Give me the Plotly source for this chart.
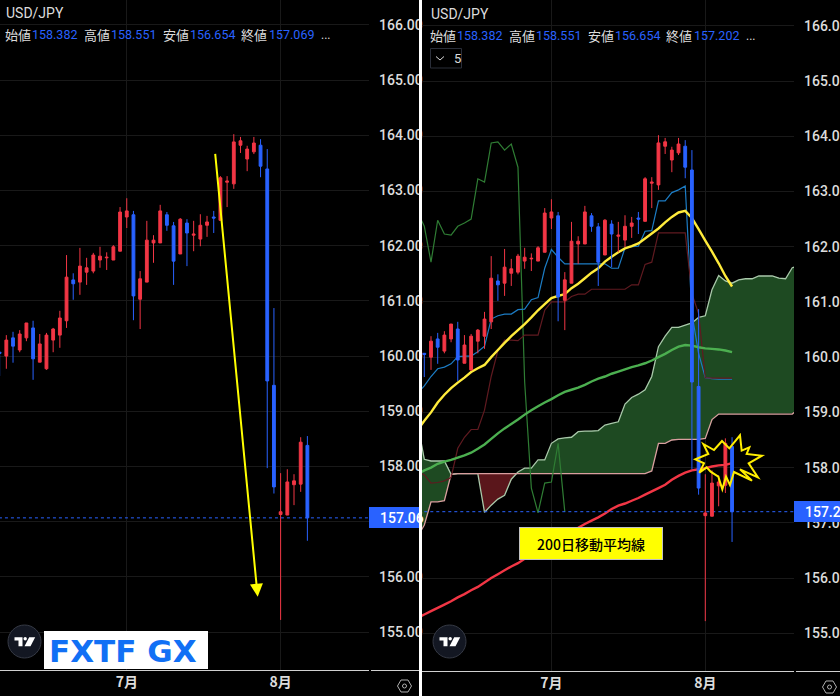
import numpy as np
import plotly.graph_objects as go

# ---------- data ----------
candle_idx = list(range(-1, 46))
opens = [160.07, 160.00, 160.33, 160.11, 160.33, 160.51, 159.89, 159.77, 160.29, 160.38, 160.64, 161.38,
         161.34, 161.52, 161.54, 161.74, 161.78, 161.74, 161.90, 162.52, 162.56, 161.03, 161.34, 162.05,
         162.05, 162.56, 162.36, 161.85, 162.41, 162.19, 162.12, 162.37, 162.52, 162.46, 163.15, 163.12,
         163.82, 163.57, 163.70, 163.82, 163.39, 159.47, 157.13, 157.12, 157.67, 157.68, 158.382]
highs = [160.07, 160.38, 160.44, 160.47, 160.60, 160.64, 160.40, 160.42, 160.51, 160.82, 161.83, 161.50,
         161.96, 161.78, 161.87, 161.98, 161.88, 162.01, 162.70, 162.86, 162.63, 161.54, 162.45, 162.19,
         162.74, 162.61, 162.43, 162.50, 162.48, 162.45, 162.57, 162.54, 162.63, 163.26, 163.26, 164.02,
         163.97, 163.81, 163.97, 163.93, 163.75, 160.87, 157.88, 157.95, 157.86, 158.53, 158.551]
lows = [159.64, 159.77, 159.88, 160.07, 160.27, 159.57, 159.89, 159.75, 160.07, 160.15, 160.51, 161.02,
        161.11, 161.29, 161.50, 161.60, 161.56, 161.74, 161.90, 162.32, 160.65, 160.49, 161.34, 161.69,
        162.05, 162.27, 161.29, 161.85, 161.63, 161.90, 161.99, 162.16, 162.23, 162.46, 162.70, 163.03,
        163.68, 163.35, 163.66, 163.24, 157.97, 157.51, 155.22, 157.12, 157.30, 157.54, 156.654]
closes_left = [160.05, 160.29, 160.18, 160.40, 160.60, 159.95, 160.22, 160.38, 160.49, 160.69, 161.43, 161.31,
               161.63, 161.60, 161.83, 161.81, 161.79, 161.98, 162.61, 162.63, 161.09, 161.40, 162.10, 162.10,
               162.63, 162.37, 161.72, 162.48, 162.23, 162.21, 162.37, 162.43, 162.50, 163.23, 163.17, 163.88,
               163.90, 163.75, 163.86, 163.44, 159.55, 157.63, 157.18, 157.72, 157.74, 158.44, 157.069]
closes_right = closes_left[:-1] + [157.202]

line_idx = list(range(-2, 46))
sma25 = [158.68, 158.85, 159.00, 159.18, 159.32, 159.44, 159.54, 159.63, 159.73, 159.80, 159.86, 160.00,
         160.13, 160.26, 160.38, 160.49, 160.60, 160.72, 160.85, 160.96, 161.07, 161.11, 161.14, 161.25,
         161.33, 161.43, 161.53, 161.61, 161.73, 161.82, 161.90, 161.97, 162.01, 162.06, 162.15, 162.24,
         162.33, 162.44, 162.54, 162.62, 162.65, 162.52, 162.32, 162.11, 161.91, 161.70, 161.47, 161.28]
sma75 = [157.88, 157.95, 158.00, 158.07, 158.11, 158.14, 158.18, 158.22, 158.27, 158.34, 158.42, 158.52,
         158.62, 158.71, 158.79, 158.87, 158.96, 159.04, 159.11, 159.18, 159.24, 159.31, 159.37, 159.41,
         159.45, 159.50, 159.56, 159.61, 159.65, 159.70, 159.74, 159.78, 159.82, 159.85, 159.89, 159.94,
         160.00, 160.06, 160.13, 160.19, 160.22, 160.21, 160.18, 160.16, 160.15, 160.14, 160.12, 160.09]
sma200 = [155.28, 155.34, 155.40, 155.46, 155.52, 155.58, 155.65, 155.71, 155.78, 155.84, 155.92, 156.00,
          156.07, 156.14, 156.21, 156.27, 156.35, 156.42, 156.49, 156.57, 156.65, 156.72, 156.78, 156.85,
          156.91, 156.98, 157.04, 157.10, 157.17, 157.25, 157.31, 157.35, 157.40, 157.45, 157.51, 157.57,
          157.63, 157.69, 157.78, 157.85, 157.91, 157.95, 157.97, 157.99, 158.02, 158.04, 158.05, 158.08]
tenkan = [159.35, 159.48, 159.65, 159.79, 159.82, 159.88, 160.01, 160.02, 160.02, 160.10, 160.20, 160.69,
          160.75, 160.78, 160.78, 160.86, 160.87, 161.04, 161.08, 161.61, 161.95, 161.81, 161.69, 161.69,
          161.69, 161.69, 161.69, 161.69, 161.69, 161.61, 161.61, 161.98, 162.00, 162.01, 162.28, 162.29,
          162.83, 162.83, 162.98, 163.03, 163.10, 160.79, 160.07, 159.63, 159.61, 159.60, 159.60, 159.60]
kijun = [157.92, 157.87, 157.72, 157.73, 157.76, 157.82, 158.35, 158.55, 158.69, 158.69, 159.04, 159.65,
         160.12, 160.31, 160.31, 160.30, 160.40, 160.40, 160.40, 160.85, 161.00, 161.00, 161.00, 161.10,
         161.14, 161.14, 161.23, 161.23, 161.23, 161.23, 161.23, 161.23, 161.31, 161.31, 161.68, 161.72,
         162.25, 162.25, 162.25, 162.25, 162.25, 161.15, 160.79, 159.63, 159.62, 159.62, 159.62, 159.62]
chikou_idx = list(range(-2, 21))
chikou = [162.63, 162.37, 161.72, 162.48, 162.23, 162.21, 162.37, 162.43, 162.50, 163.23, 163.17, 163.88,
          163.90, 163.75, 163.86, 163.44, 159.55, 157.63, 157.18, 157.72, 157.74, 158.44, 157.20]
cloud_idx = list(range(-2, 56))
senkou_a = [158.80, 158.15, 158.12, 158.12, 158.12, 157.88, 157.89, 157.89, 157.89, 157.89, 157.19, 157.32,
            157.43, 157.50, 157.79, 157.92, 157.99, 157.99, 158.14, 158.14, 158.44, 158.52, 158.54, 158.55,
            158.65, 158.66, 158.66, 158.67, 158.77, 158.80, 158.83, 159.15, 159.27, 159.33, 159.41, 159.65,
            160.19, 160.38, 160.54, 160.54, 160.58, 160.62, 160.72, 160.75, 161.22, 161.48, 161.38, 161.34,
            161.40, 161.42, 161.42, 161.47, 161.47, 161.47, 161.43, 161.42, 161.62, 161.65]
senkou_b = [156.75, 156.96, 157.38, 157.38, 157.40, 157.88, 157.89, 157.89, 157.89, 157.89, 157.89, 157.89,
            157.89, 157.89, 157.89, 157.89, 157.89, 157.89, 157.89, 157.89, 157.89, 157.89, 157.89, 157.89,
            157.89, 157.89, 157.89, 157.89, 157.89, 157.89, 157.89, 157.89, 157.89, 157.89, 157.89, 157.94,
            158.44, 158.44, 158.50, 158.51, 158.51, 158.51, 158.51, 158.53, 158.87, 158.97, 158.97, 158.97,
            158.97, 158.97, 158.97, 158.97, 158.97, 158.97, 158.97, 158.97, 158.97, 159.07]

price_ticks = list(range(155, 167))
month_pos = [18, 41]
month_labels = ["7月", "8月"]
ohlc_labels = ["始値", "高値", "安値", "終値"]
ohlc_left = ["158.382", "158.551", "156.654", "157.069"]
ohlc_right = ["158.382", "158.551", "156.654", "157.202"]

# ---------- colours ----------
UP, DOWN = "#f23645", "#2962ff"
BG, GRID = "#000000", "#191919"
TXT = "#dcdcdc"
W, H = 840, 698
SANS = "Roboto, sans-serif"
CJK = "Noto Sans CJK JP, sans-serif"


def xp(px):
    return px / W


def yp(py):
    return 1 - py / H


fig = go.Figure()


def candles(closes, xa, ya):
    return go.Candlestick(
        x=candle_idx, open=opens, high=highs, low=lows, close=closes, xaxis=xa, yaxis=ya,
        increasing=dict(line=dict(color=UP, width=1), fillcolor=UP),
        decreasing=dict(line=dict(color=DOWN, width=1), fillcolor=DOWN),
        whiskerwidth=0, hoverinfo="skip", showlegend=False,
    )


def line(x, y, color, width, xa="x2", ya="y2", dash=None):
    return go.Scatter(x=x, y=y, mode="lines", xaxis=xa, yaxis=ya, hoverinfo="skip",
                      line=dict(color=color, width=width, dash=dash, simplify=False))


# left panel
fig.add_trace(candles(closes_left, "x", "y"))
fig.add_trace(line([candle_idx[0] - 1, 56], [closes_left[-1]] * 2, DOWN, 1, "x", "y", "dot"))

# right panel: cloud
xf = np.arange(cloud_idx[0], cloud_idx[-1] + 0.001, 0.02)
af = np.interp(xf, cloud_idx, senkou_a)
bf = np.interp(xf, cloud_idx, senkou_b)
top = np.maximum(af, bf)
for lower, fillc in ((bf, "#1e4a22"), (af, "#5a161b")):
    fig.add_trace(go.Scatter(x=xf, y=lower, mode="lines", line=dict(width=0), xaxis="x2", yaxis="y2", hoverinfo="skip"))
    fig.add_trace(go.Scatter(x=xf, y=top, mode="lines", line=dict(width=0), fill="tonexty", fillcolor=fillc,
                             xaxis="x2", yaxis="y2", hoverinfo="skip"))
fig.add_trace(line(cloud_idx, senkou_a, "#a9c9aa", 1.3))
fig.add_trace(line(cloud_idx, senkou_b, "#d99f9f", 1.3))
fig.add_trace(line(chikou_idx, chikou, "#2f7d34", 1.2))
fig.add_trace(line(line_idx, tenkan, "#1c7cc4", 1.2))
fig.add_trace(line(line_idx, kijun, "#601a20", 1.2))
fig.add_trace(line(line_idx, sma75, "#4caf50", 2.4))
fig.add_trace(line(line_idx, sma25, "#ffeb3b", 2.4))
fig.add_trace(line(line_idx, sma200, "#f23645", 2.4))
fig.add_trace(line([-1, 56], [closes_right[-1]] * 2, DOWN, 1, "x2", "y2", "dot"))
# right panel: candles on an overlaying axis pair so they sit above the cloud
fig.add_trace(candles(closes_right, "x3", "y3"))

# ---------- axes ----------
XL = [-0.946, 54.21]
YL = [154.313, 166.451]
XR = [-1.345, 54.26]
YR = [154.317, 166.468]


def xaxis(dom, rng, anchor, **kw):
    return dict(domain=dom, range=rng, anchor=anchor, tickmode="array", tickvals=month_pos, ticktext=month_labels,
                tickfont=dict(family=CJK, size=14, color=TXT, weight=700), ticklabelstandoff=2,
                showgrid=True, gridcolor=GRID, gridwidth=1, zeroline=False, showline=False, ticks="",
                rangeslider=dict(visible=False), fixedrange=True, **kw)


def yaxis(dom, rng, anchor, **kw):
    return dict(domain=dom, range=rng, anchor=anchor, side="right", tickmode="array", tickvals=price_ticks,
                ticktext=[f"{v}.00" for v in price_ticks], tickfont=dict(family=SANS, size=14, color=TXT, weight=500),
                ticklabelstandoff=9, showgrid=True, gridcolor=GRID, gridwidth=1, zeroline=False, showline=False,
                ticks="", fixedrange=True, **kw)


LDX, LDY = [0, xp(369)], [yp(670), 1]
RDX, RDY = [xp(422), xp(794)], [yp(671), 1]

shapes = []


def rect(x0, y0, x1, y1, fill, line_c=None, lw=0):
    shapes.append(dict(type="rect", xref="paper", yref="paper", x0=xp(x0), x1=xp(x1), y0=yp(y0), y1=yp(y1),
                       fillcolor=fill, line=dict(color=line_c or fill, width=lw), layer="above"))


def poly(points, fill=None, color=None, width=0, closed=True):
    d = "M" + "L".join(f"{xp(px):.5f},{yp(py):.5f}" for px, py in points) + ("Z" if closed else "")
    shapes.append(dict(type="path", xref="paper", yref="paper", path=d, fillcolor=fill or "rgba(0,0,0,0)",
                       line=dict(color=color or "rgba(0,0,0,0)", width=width), layer="above"))


def circle(cx, cy, r, fill, color=None, width=0):
    shapes.append(dict(type="circle", xref="paper", yref="paper", x0=xp(cx - r), x1=xp(cx + r), y0=yp(cy + r),
                       y1=yp(cy - r), fillcolor=fill, line=dict(color=color or fill, width=width), layer="above"))


# frame pieces
rect(419, 0, 422, H, "#ffffff")
rect(0, 696, W, H, "#ffffff")
rect(0, 670, 369, 671, "#d0d0d0")
rect(371, 670, 419, 671, "#d0d0d0")
rect(422, 671, 794, 672, "#d0d0d0")
rect(796, 671, W, 672, "#d0d0d0")
# last-price badges
rect(369, 507, 419, 528, DOWN)
rect(794, 501, W, 522, DOWN)


# TradingView logo + settings hexagon
def tv_logo(cx, cy):
    circle(cx, cy, 16.5, "#131722", "#363a45", 1)
    poly([(cx - 10, cy - 4.3), (cx - 2, cy - 4.3), (cx - 2, cy + 4.7), (cx - 6, cy + 4.7), (cx - 6, cy - 1), (cx - 10, cy - 1)], "#ffffff")
    circle(cx + 0.7, cy - 2.7, 1.7, "#ffffff")
    poly([(cx + 4.7, cy - 4.3), (cx + 10.7, cy - 4.3), (cx + 6, cy + 4.7), (cx, cy + 4.7)], "#ffffff")


def hexagon(cx, cy):
    poly([(cx - 7, cy), (cx - 3.5, cy - 6), (cx + 3.5, cy - 6), (cx + 7, cy), (cx + 3.5, cy + 6), (cx - 3.5, cy + 6)],
         None, "#b0b0b0", 1)
    circle(cx, cy, 2, "rgba(0,0,0,0)", "#b0b0b0", 1)


tv_logo(24.5, 641.5)
tv_logo(449.5, 641.5)
hexagon(404.5, 686)
hexagon(829.5, 687)
rect(44, 631, 208, 669, "#ffffff")

# indicator-count button
shapes.append(dict(type="rect", xref="paper", yref="paper", x0=xp(430.5), x1=xp(461.5), y0=yp(68), y1=yp(48.5),
                   line=dict(color="#2a2e39", width=1), fillcolor="rgba(0,0,0,0)", layer="above"))
poly([(436, 56.5), (440, 60), (444, 56.5)], None, TXT, 1, closed=False)

# burst marking the 200-day touch
burst = [(40, 42), (72, 60), (96, 33), (118, 55), (150, 16), (155, 62), (178, 52), (170, 72), (216, 77), (176, 100),
         (204, 142), (150, 118), (186, 152), (132, 126), (120, 165), (108, 140), (97, 178), (85, 140), (62, 125),
         (50, 112), (28, 128), (42, 100), (16, 88), (55, 72)]
poly([(690 + a / 3, 430 + b / 3) for a, b in burst], None, "#ffee00", 2)

annos = []


def text(px, py, s, size=13, color=TXT, family=CJK, anchor="left", **kw):
    annos.append(dict(xref="paper", yref="paper", x=xp(px), y=yp(py), text=s, showarrow=False, xanchor=anchor,
                      yanchor="middle", borderpad=0, font=dict(size=size, color=color, family=family), **kw))


def header(dx, dy, vals, tail):
    text(5 + dx, 13 + dy, "USD/JPY", size=14, family=SANS)
    label_x = [4, 83, 162, 240]
    value_x = [31, 110, 189, 268]
    for lab, lx, vx, v in zip(ohlc_labels, label_x, value_x, vals):
        text(lx + dx, 34.5 + dy, lab, size=13)
        text(vx + dx, 34.5 + dy, v, size=12.5, color=DOWN, family=SANS)
    text(320 + dx, 35 + dy, tail, size=12, family=SANS)


header(0, 0, ohlc_left, "...")
header(425, 1, ohlc_right, "...")
text(453, 58.5, "5", size=13, family=SANS)
text(380, 517.5, "157.06", size=14, color="#ffffff", family=SANS, font_weight=None) if False else None
annos.append(dict(xref="paper", yref="paper", x=xp(379), y=yp(517.5), text="157.06", showarrow=False, xanchor="left",
                  yanchor="middle", borderpad=0, font=dict(size=14, color="#ffffff", family=SANS, weight=500)))
annos.append(dict(xref="paper", yref="paper", x=xp(804), y=yp(511.5), text="157.20", showarrow=False, xanchor="left",
                  yanchor="middle", borderpad=0, font=dict(size=14, color="#ffffff", family=SANS, weight=500)))
annos.append(dict(xref="paper", yref="paper", x=xp(122.5), y=yp(650.5), text="FXTF GX", showarrow=False,
                  xanchor="center", yanchor="middle", borderpad=0,
                  font=dict(size=31, color="#1170f5", family="DejaVu Sans", weight=700)))
annos.append(dict(xref="paper", yref="paper", x=xp(590.5), y=yp(543.5), text="200日移動平均線", showarrow=False,
                  xanchor="center", yanchor="middle", width=142, height=31, bgcolor="#ffff00", bordercolor="#c0c0c0",
                  borderwidth=1, borderpad=0, font=dict(size=14, color="#000000", family=CJK, weight=500)))
# falling arrow on the left panel
annos.append(dict(xref="x", yref="y", axref="x", ayref="y", x=37.57, y=155.64, ax=31.2, ay=163.69, text="",
                  showarrow=True, arrowhead=2, arrowsize=1.3, arrowwidth=2, arrowcolor="#ffff00"))

fig.update_layout(
    width=W, height=H, margin=dict(l=0, r=0, t=0, b=0, autoexpand=False), paper_bgcolor=BG, plot_bgcolor=BG,
    showlegend=False, hovermode=False, boxgap=0.4, shapes=shapes, annotations=annos,
    xaxis=xaxis(LDX, XL, "y"), yaxis=yaxis(LDY, YL, "x"),
    xaxis2=xaxis(RDX, XR, "y2"), yaxis2=yaxis(RDY, YR, "x2"),
    xaxis3=dict(domain=RDX, range=XR, overlaying="x2", anchor="y3", visible=False, showgrid=False,
                rangeslider=dict(visible=False), fixedrange=True),
    yaxis3=dict(domain=RDY, range=YR, overlaying="y2", anchor="x3", visible=False, showgrid=False, fixedrange=True),
)

fig.write_html("out.html", config=dict(displayModeBar=False), post_script="document.body.style.margin='0';")
